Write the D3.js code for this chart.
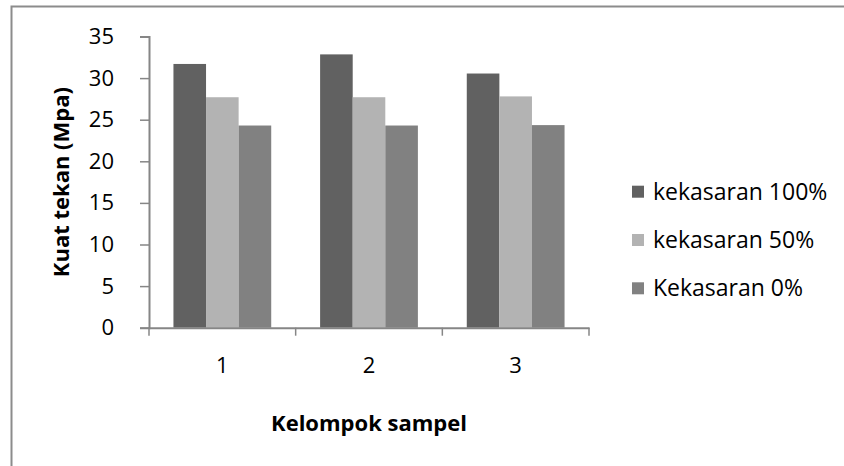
<!DOCTYPE html>
<html lang="id">
<head>
<meta charset="UTF-8">
<title>Kuat tekan</title>
<script src="https://cdn.jsdelivr.net/npm/d3@7"></script>
<style>
body { margin: 0; background: #fff; }
text { font-family: "Open Sans", sans-serif; fill: #000; }
</style>
</head>
<body>
<div id="chart"></div>
<script>
// data
var groups = ["1", "2", "3"];
var seriesNames = ["kekasaran 100%", "kekasaran 50%", "Kekasaran 0%"];
var kekasaran100 = [31.7, 32.85, 30.55];
var kekasaran50 = [27.7, 27.7, 27.8];
var kekasaran0 = [24.3, 24.3, 24.35];
var yTicks = [0, 5, 10, 15, 20, 25, 30, 35];
var colors = ["#616161", "#b3b3b3", "#818181"];

var W = 844, H = 466;
var plot = {left: 149, right: 589, top: 36.5, bottom: 327.7};

var svg = d3.select("#chart").append("svg")
  .attr("width", W)
  .attr("height", H);

// outer border of the chart area
svg.append("rect")
  .attr("x", 11.5).attr("y", 6.5)
  .attr("width", W + 10).attr("height", H + 10)
  .attr("fill", "none")
  .attr("stroke", "#8c8c8c")
  .attr("stroke-width", 2);

var x = d3.scaleBand()
  .domain(groups)
  .range([plot.left, plot.right]);

// gap width 150% -> bars take 3/(3+1.5) of the band
var inner = d3.scaleBand()
  .domain(seriesNames)
  .range([0, x.bandwidth()])
  .paddingOuter(0.75)
  .paddingInner(0);

var y = d3.scaleLinear()
  .domain([0, 35])
  .range([plot.bottom, plot.top]);

var rows = groups.map(function(g, i) {
  return {group: g, values: [kekasaran100[i], kekasaran50[i], kekasaran0[i]]};
});

// bars
svg.append("g")
  .selectAll("g")
  .data(rows)
  .enter().append("g")
    .attr("transform", function(d) { return "translate(" + x(d.group) + ",0)"; })
  .selectAll("rect")
  .data(function(d) { return d.values.map(function(v, j) { return {key: seriesNames[j], value: v, j: j}; }); })
  .enter().append("rect")
    .attr("x", function(d) { return inner(d.key); })
    .attr("y", function(d) { return y(d.value); })
    .attr("width", inner.bandwidth())
    .attr("height", function(d) { return y(0) - y(d.value); })
    .attr("fill", function(d) { return colors[d.j]; });

// y axis
var yAxis = svg.append("g")
  .attr("transform", "translate(" + plot.left + ",0)")
  .call(d3.axisLeft(y).tickValues(yTicks).tickSize(9).tickSizeOuter(9).tickPadding(26));
yAxis.select(".domain").attr("stroke", "#868686").attr("stroke-width", 2);
yAxis.selectAll(".tick line").attr("stroke", "#868686").attr("stroke-width", 1.5);
yAxis.selectAll(".tick text")
  .style("font-size", "22px")
  .attr("fill", "#000");

// x axis: ticks sit on the category boundaries
var xAxis = svg.append("g")
  .attr("transform", "translate(0," + plot.bottom + ")")
  .call(d3.axisBottom(x).tickSize(0).tickSizeOuter(0).tickPadding(30));
xAxis.select(".domain").attr("stroke", "#868686").attr("stroke-width", 2);
xAxis.selectAll(".tick text")
  .style("font-size", "22px")
  .attr("fill", "#000");

var bounds = groups.map(function(g) { return x(g); }).concat([plot.right]);
svg.append("g")
  .selectAll("line")
  .data(bounds)
  .enter().append("line")
    .attr("x1", function(d) { return d; })
    .attr("x2", function(d) { return d; })
    .attr("y1", plot.bottom)
    .attr("y2", plot.bottom + 8)
    .attr("stroke", "#868686")
    .attr("stroke-width", 1.5);

// axis titles
svg.append("text")
  .attr("x", (plot.left + plot.right) / 2)
  .attr("y", 431)
  .attr("text-anchor", "middle")
  .style("font-size", "22px")
  .style("font-weight", "bold")
  .text("Kelompok sampel");

svg.append("text")
  .attr("transform", "translate(69," + ((plot.top + plot.bottom) / 2) + ") rotate(-90)")
  .attr("text-anchor", "middle")
  .style("font-size", "22px")
  .style("font-weight", "bold")
  .text("Kuat tekan (Mpa)");

// legend
var legend = svg.append("g")
  .selectAll("g")
  .data(seriesNames)
  .enter().append("g")
    .attr("transform", function(d, i) { return "translate(632," + (191.7 + i * 48.3) + ")"; });
legend.append("rect")
  .attr("x", 0).attr("y", -6)
  .attr("width", 12).attr("height", 12)
  .attr("fill", function(d, i) { return colors[i]; });
legend.append("text")
  .attr("x", 21)
  .attr("dy", "0.35em")
  .style("font-size", "23px")
  .text(function(d) { return d; });
</script>
</body>
</html>
